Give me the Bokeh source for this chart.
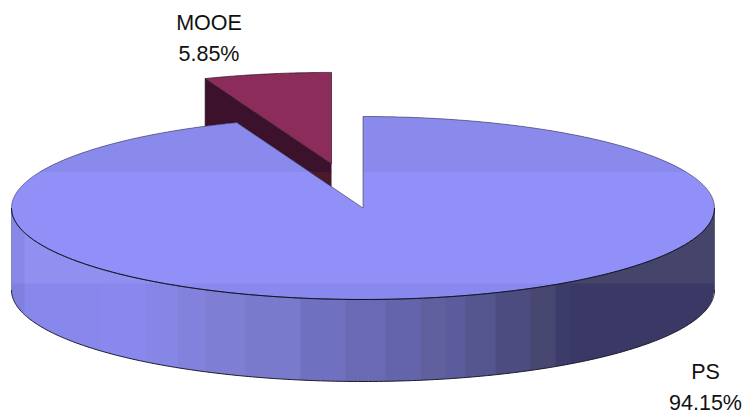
import numpy as np
from bokeh.plotting import figure
from bokeh.models import Range1d
from bokeh.core.properties import value
from bokeh.embed import file_html
from bokeh.resources import INLINE

# Data
categories = ["PS", "MOOE"]
shares = [94.15, 5.85]

# Geometry (screen-like data units)
CX, CY, RX, RY, DEPTH = 362.5, 207.5, 351.5, 91.5, 82.0
EXPLODE = 0.49
BAND_TOP, BAND_BOTTOM = 171.5, 283.0

# Side shading: step edges and colours (upper band, lower band)
side_edges = [11, 24, 100, 145, 177, 205, 245, 300, 345, 385, 420, 445, 465, 495, 530, 555, 570, 714]
side_lower = ["#8080e0", "#8888ec", "#8888ee", "#8686e6", "#8282dc", "#7e7ed2", "#7a7acc", "#7070c0",
              "#6a6ab4", "#6464ac", "#60609f", "#5c5c9c", "#555590", "#4c4c80", "#474770", "#3c3c6a", "#3a3865"]
side_upper = ["#8888e6", "#9090f0", "#9090f0", "#8e8eea", "#8a8ae2", "#8686da", "#8080d2", "#7676c6",
              "#7070ba", "#6a6ab2", "#6666a6", "#6262a2", "#5a5a96", "#525286", "#4d4d78", "#46466e", "#45456c"]

TOP_COLORS = ["#8a8aec", "#9090f8", "#8888ee"]
MOOE_TOP = "#8b2c5a"
MOOE_SIDE = ["#3b112c", "#4a1a2a"]
EDGE = "#1a1a2a"


def rim(theta, cx=CX, cy=CY):
    """theta: fraction-of-circle angle in radians, clockwise from 12 o'clock."""
    return cx + RX * np.sin(theta), cy - RY * np.cos(theta)


def densify(xs, ys, n=40):
    ox, oy = [], []
    m = len(xs)
    for i in range(m):
        j = (i + 1) % m
        t = np.linspace(0, 1, n, endpoint=False)
        ox.extend(xs[i] + (xs[j] - xs[i]) * t)
        oy.extend(ys[i] + (ys[j] - ys[i]) * t)
    return np.array(ox), np.array(oy)


p = figure(width=747, height=416, output_backend="svg", toolbar_location=None,
           x_range=Range1d(0, 747), y_range=Range1d(416, 0), min_border=0,
           outline_line_color=None, background_fill_color="white")
p.axis.visible = False
p.grid.visible = False


def fill_band(xs, ys, y0, y1, color):
    x2, y2 = densify(np.asarray(xs), np.asarray(ys))
    p.patch(x2, np.clip(y2, y0, y1), fill_color=color, line_color=None)


# Angles from the data
ps_sweep = shares[0] / 100 * 2 * np.pi
mooe_sweep = shares[1] / 100 * 2 * np.pi
mid = ps_sweep + mooe_sweep / 2
ox = EXPLODE * RX * np.sin(mid)
oy = -EXPLODE * RY * np.cos(mid)

# MOOE wedge (exploded)
th = np.linspace(ps_sweep, 2 * np.pi, 60)
mx, my = rim(th, CX + ox, CY + oy)
apex = (CX + ox, CY + oy)
sx = [mx[0], apex[0], apex[0], mx[0]]
sy = [my[0], apex[1], apex[1] + DEPTH, my[0] + DEPTH]
fill_band(sx, sy, -1e4, BAND_TOP + 0.5, MOOE_SIDE[0])
fill_band(sx, sy, BAND_TOP, 1e4, MOOE_SIDE[1])
p.line([sx[0], sx[3]], [sy[0], sy[3]], line_color="#20101a", line_width=0.8)
tx = np.r_[apex[0], mx]
ty = np.r_[apex[1], my]
p.patch(tx, ty, fill_color=MOOE_TOP, line_color=None)
p.line(np.r_[tx, tx[0]], np.r_[ty, ty[0]], line_color="#2a1020", line_width=0.8, line_alpha=0.85)

# PS side walls, stepped shading
for i in range(len(side_edges) - 1):
    x0, x1 = side_edges[i], side_edges[i + 1]
    xe = min(x1 + 0.6, CX + RX)
    x0c = max(x0, CX - RX)
    xx = np.linspace(x0c, xe, 60)
    up = CY + RY * np.sqrt(np.clip(1 - ((xx - CX) / RX) ** 2, 0, 1))
    polyx = np.r_[xx, xx[::-1]]
    polyy = np.r_[up, (up + DEPTH)[::-1]]
    fill_band(polyx, polyy, -1e4, BAND_BOTTOM + 0.6, side_upper[i])
    fill_band(polyx, polyy, BAND_BOTTOM, 1e4, side_lower[i])

# Side outline
th = np.linspace(np.pi / 2, 3 * np.pi / 2, 300)
bx, by = rim(th)
p.line(bx, by + DEPTH, line_color=EDGE, line_width=1.0)
p.line([CX - RX, CX - RX], [CY, CY + DEPTH], line_color="#6a6ab0", line_width=0.7)
p.line([CX + RX, CX + RX], [CY, CY + DEPTH], line_color="#44445a", line_width=0.7)

# PS top
th = np.linspace(0, ps_sweep, 600)
ex, ey = rim(th)
px_ = np.r_[CX, ex]
py_ = np.r_[CY, ey]
p.patch(px_, py_, fill_color=TOP_COLORS[1], line_color=None)
fill_band(px_, py_, -1e4, BAND_TOP, TOP_COLORS[0])
fill_band(px_, py_, BAND_BOTTOM, 1e4, TOP_COLORS[2])
p.line(np.r_[px_, px_[0]], np.r_[py_, py_[0]], line_color="#303048", line_width=0.7, line_alpha=0.8)
p.line(bx, by, line_color="#101020", line_width=1.0)

# Labels
FONT = value("Liberation Sans")
label_x = [705, 208.5]
label_y = [371.5, 22]
for name, share, lx, ly in zip(categories, shares, label_x, label_y):
    p.text([lx], [ly], text=[name], text_font=FONT, text_font_size="21.5px", text_align="center",
           text_baseline="middle", text_color="#111111")
    p.text([lx], [ly + 31], text=[f"{share:.2f}%"], text_font=FONT, text_font_size="21.5px",
           text_align="center", text_baseline="middle", text_color="#111111")

open("out.html", "w").write(file_html(p, INLINE))
